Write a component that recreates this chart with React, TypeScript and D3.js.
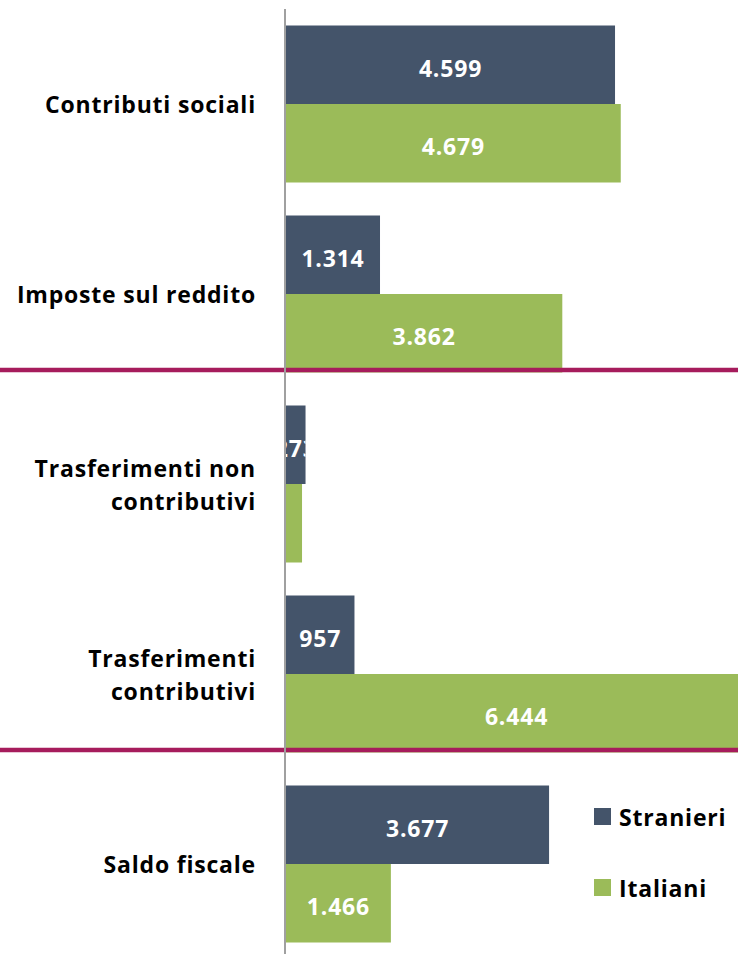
import React, { useEffect, useRef } from "react";
import * as d3 from "d3";

const categories = [
  "Contributi sociali",
  "Imposte sul reddito",
  "Trasferimenti non contributivi",
  "Trasferimenti contributivi",
  "Saldo fiscale",
];
const categoryLines = [
  ["Contributi sociali"],
  ["Imposte sul reddito"],
  ["Trasferimenti non", "contributivi"],
  ["Trasferimenti", "contributivi"],
  ["Saldo fiscale"],
];
const seriesNames = ["Stranieri", "Italiani"];
const stranieri = [4599, 1314, 273, 957, 3677];
const italiani = [4679, 3862, 224, 6444, 1466];
const seriesColors = ["#44546A", "#9BBB59"];
// separators drawn under these groups
const separatorAfter = ["Imposte sul reddito", "Trasferimenti contributivi"];

const W = 738;
const H = 954;

const App = () => {
  const svgRef = useRef<SVGSVGElement>(null);

  useEffect(() => {
    const svg = d3.select(svgRef.current);
    svg.selectAll("*").remove();

    const fmt = d3
      .formatLocale({ decimal: ",", thousands: ".", grouping: [3], currency: ["", "€"] })
      .format(",d");

    const font = "'Open Sans', Lato, sans-serif";

    const y = d3
      .scaleBand()
      .domain(categories)
      .range([9, 959])
      .paddingInner(33 / 190)
      .paddingOuter(16.5 / 190);

    const ySub = d3.scaleBand().domain(seriesNames).range([0, y.bandwidth()]);

    const x = d3.scaleLinear().domain([0, 4600]).range([285, 614.1]);

    const rows = categories.map((c, i) => ({
      category: c,
      values: [stranieri[i], italiani[i]],
    }));

    const defs = svg.append("defs");

    // bars
    const groups = svg
      .selectAll("g.cat")
      .data(rows)
      .enter()
      .append("g")
      .attr("class", "cat")
      .attr("transform", (d) => `translate(0,${y(d.category)})`);

    groups.each(function (d, ci) {
      const g = d3.select(this);
      d.values.forEach((v, si) => {
        const name = seriesNames[si];
        const bx = x(0) + 1;
        const bw = x(v) - x(0);
        const by = ySub(name)!;
        const bh = ySub.bandwidth();
        g.append("rect")
          .attr("x", bx)
          .attr("y", by)
          .attr("width", bw)
          .attr("height", bh)
          .attr("fill", seriesColors[si]);
        if (bw < 18) return; // label doesn't fit at all
        const clipId = `clip-${ci}-${si}`;
        defs
          .append("clipPath")
          .attr("id", clipId)
          .append("rect")
          .attr("x", bx)
          .attr("y", (y(d.category) || 0) + by)
          .attr("width", bw)
          .attr("height", bh);
        svg
          .append("text")
          .attr("clip-path", `url(#${clipId})`)
          .attr("x", bx + bw / 2)
          .attr("y", (y(d.category) || 0) + by + bh / 2 + 3)
          .attr("text-anchor", "middle")
          .attr("dominant-baseline", "central")
          .attr("fill", "#fff")
          .attr("font-family", font)
          .attr("font-weight", 700)
          .attr("font-size", 23)
          .attr("letter-spacing", 0.8)
          .text(fmt(v));
      });
    });

    // category labels
    rows.forEach((d, i) => {
      const lines = categoryLines[i];
      const cy = (y(d.category) || 0) + y.bandwidth() / 2;
      const lh = 33;
      lines.forEach((ln, li) => {
        svg
          .append("text")
          .attr("x", 256)
          .attr("y", cy + (li - (lines.length - 1) / 2) * lh)
          .attr("text-anchor", "end")
          .attr("dominant-baseline", "central")
          .attr("fill", "#000")
          .attr("font-family", font)
          .attr("font-weight", 700)
          .attr("font-size", 23)
          .attr("letter-spacing", 0.8)
          .text(ln);
      });
    });

    // separators
    separatorAfter.forEach((c) => {
      const sy = (y(c) || 0) + y.bandwidth() - 2.5;
      svg
        .append("line")
        .attr("x1", 0)
        .attr("x2", W)
        .attr("y1", sy)
        .attr("y2", sy)
        .attr("stroke", "#A61C5C")
        .attr("stroke-width", 4.5);
    });

    // vertical axis
    svg
      .append("line")
      .attr("x1", x(0))
      .attr("x2", x(0))
      .attr("y1", 9)
      .attr("y2", H)
      .attr("stroke", "#A0A0A0")
      .attr("stroke-width", 2);

    // legend
    const legend = svg.append("g").attr("transform", "translate(594,808)");
    seriesNames.forEach((name, i) => {
      const ly = i * 71;
      legend
        .append("rect")
        .attr("x", 0)
        .attr("y", ly)
        .attr("width", 17)
        .attr("height", 17)
        .attr("fill", seriesColors[i]);
      legend
        .append("text")
        .attr("x", 25)
        .attr("y", ly + 8.5)
        .attr("dominant-baseline", "central")
        .attr("fill", "#000")
        .attr("font-family", font)
        .attr("font-weight", 700)
        .attr("font-size", 23)
        .attr("letter-spacing", 0.8)
        .text(name);
    });

    return () => {
      svg.selectAll("*").remove();
    };
  }, []);

  return (
    <svg
      ref={svgRef}
      width={W}
      height={H}
      style={{ position: "absolute", left: 0, top: 0, background: "#fff" }}
    />
  );
};

export default App;
